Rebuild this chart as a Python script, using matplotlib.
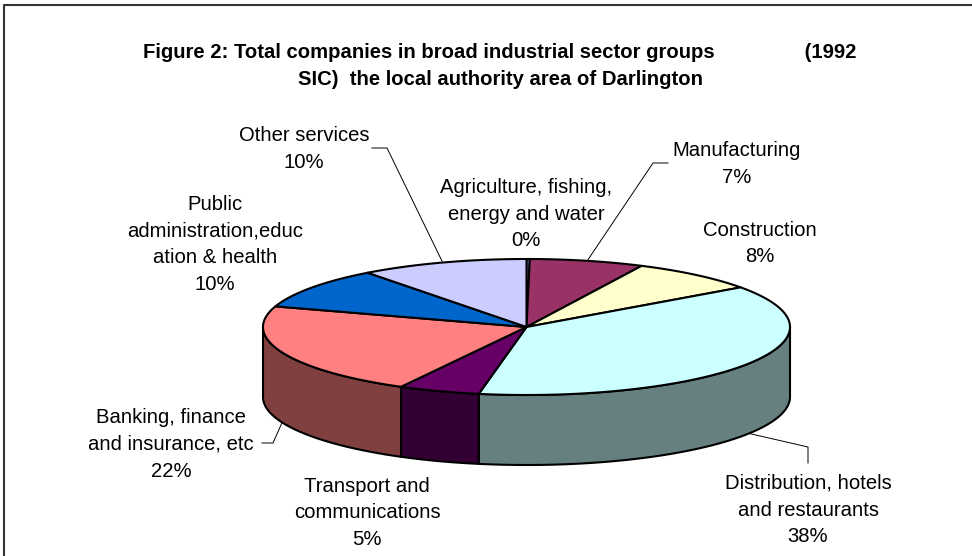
import numpy as np
import matplotlib.pyplot as plt
from matplotlib.patches import Polygon
from matplotlib.colors import to_rgb

plt.rcParams["font.family"] = ["Liberation Sans", "DejaVu Sans"]

sectors = [
    "Agriculture, fishing,\nenergy and water",
    "Manufacturing",
    "Construction",
    "Distribution, hotels\nand restaurants",
    "Transport and\ncommunications",
    "Banking, finance\nand insurance, etc",
    "Public\nadministration,educ\nation & health",
    "Other services",
]
shares = [0.2, 7.0, 7.9, 37.8, 5.0, 22.0, 9.8, 10.3]
top_colors = ["#9999FF", "#993366", "#FFFFCC", "#CCFFFF",
              "#660066", "#FF8080", "#0066CC", "#CCCCFF"]

# label centres (pixels, y down)
label_pos = [(526, 214), (737, 164), (760, 243.5), (808, 510),
             (367, 513), (171, 444.5), (215, 244.5), (304, 149)]

# pie geometry in pixels
cx, cy, rx, ry, depth = 526.5, 327, 263.5, 68, 70

fig = plt.figure(figsize=(9.72, 5.56), dpi=100)
ax = fig.add_axes([0, 0, 1, 1])
ax.set_xlim(0, 972)
ax.set_ylim(556, 0)
ax.axis("off")


def ell(t_deg, dy=0):
    t = np.radians(t_deg)
    return cx + rx * np.cos(t), cy - ry * np.sin(t) + dy


total = sum(shares)
cum = np.concatenate([[0], np.cumsum(shares)]) / total
starts = 90 - 360 * cum[:-1]
ends = 90 - 360 * cum[1:]

# side walls (front half only)
for t0, t1, col in zip(starts, ends, top_colors):
    a, b = min(t0, 0), max(t1, -180)
    if a <= b:
        continue
    ts = np.linspace(a, b, 80)
    x, y = ell(ts)
    xb, yb = ell(ts[::-1], depth)
    pts = np.column_stack([np.r_[x, xb], np.r_[y, yb]])
    side = tuple(c * 0.5 for c in to_rgb(col))
    ax.add_patch(Polygon(pts, closed=True, facecolor=side,
                         edgecolor="black", linewidth=1.5, joinstyle="round"))

# top faces
for t0, t1, col in zip(starts, ends, top_colors):
    ts = np.linspace(t0, t1, max(int(abs(t0 - t1)) * 2, 4))
    x, y = ell(ts)
    pts = np.column_stack([np.r_[cx, x], np.r_[cy, y]])
    ax.add_patch(Polygon(pts, closed=True, facecolor=col,
                         edgecolor="black", linewidth=1.5, joinstyle="round"))

# labels
for name, share, (lx, ly) in zip(sectors, shares, label_pos):
    pct = round(share / total * 100)
    ax.text(lx, ly, f"{name}\n{pct}%", ha="center", va="center",
            fontsize=14.6, linespacing=1.52)

# leader lines
mids = (starts + ends) / 2
lk = dict(color="black", linewidth=0.7)
x, y = ell(mids[7])
ax.plot([372, 387, x], [148, 148, y], **lk)
x, y = ell(mids[1])
ax.plot([668, 653, x], [163, 163, y], **lk)
x, y = ell(mids[3], depth)
ax.plot([x, 808, 808], [y, 447, 463], **lk)
x, y = ell(mids[5], depth)
ax.plot([x, 273, 262], [y, 443, 443], **lk)

ax.text(500, 66,
        "Figure 2: Total companies in broad industrial sector groups" + " " * 16 + "(1992\n"
        "SIC)  the local authority area of Darlington",
        ha="center", va="center", fontsize=14.6, fontweight="bold", linespacing=1.52)

# chart frame
ax.plot([4, 4, 972], [556, 5, 5], color="#333333", linewidth=1.5)

fig.savefig("out.png", dpi=100)
